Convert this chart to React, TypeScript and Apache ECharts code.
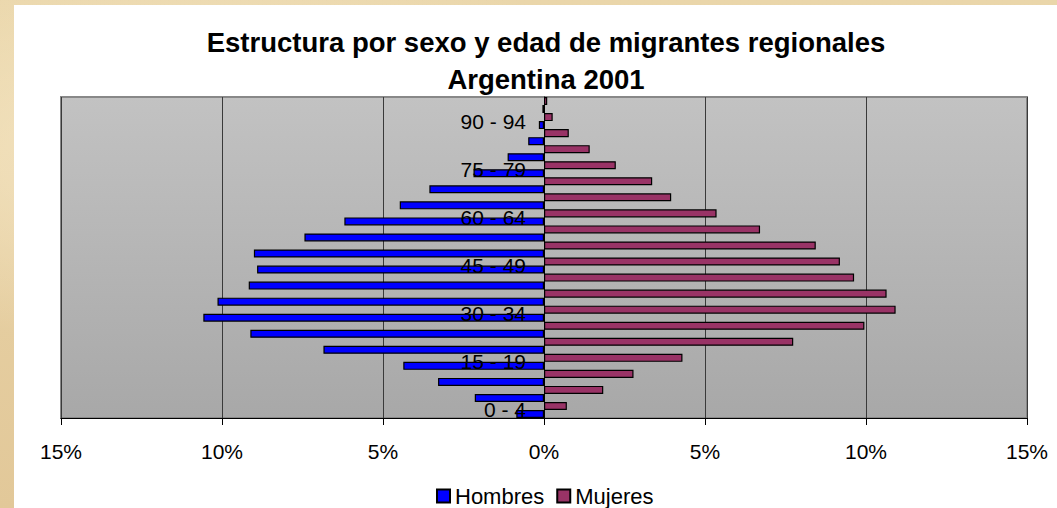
import React, { useEffect, useRef } from "react";
import * as echarts from "echarts";

const categories = [
  "0 - 4", "5 - 9", "10 - 14", "15 - 19", "20 - 24", "25 - 29", "30 - 34",
  "35 - 39", "40 - 44", "45 - 49", "50 - 54", "55 - 59", "60 - 64", "65 - 69",
  "70 - 74", "75 - 79", "80 - 84", "85 - 89", "90 - 94", "95 - 99",
];
const hombres = [
  0.86, 2.15, 3.29, 4.37, 6.85, 9.12, 10.58, 10.14, 9.17, 8.91,
  9.01, 7.44, 6.2, 4.48, 3.56, 2.19, 1.13, 0.49, 0.16, 0.05,
];
const mujeres = [
  0.71, 1.84, 2.78, 4.3, 7.74, 9.95, 10.92, 10.64, 9.63, 9.19,
  8.44, 6.71, 5.36, 3.95, 3.36, 2.23, 1.42, 0.77, 0.27, 0.1,
];
const seriesNames = ["Hombres", "Mujeres"];
const titleText = "Estructura por sexo y edad de migrantes regionales\nArgentina 2001";

const FONT = '"Liberation Sans", Arial, sans-serif';

export default function App() {
  const ref = useRef<HTMLDivElement>(null);
  useEffect(() => {
    if (!ref.current) return;
    const chart = echarts.init(ref.current, undefined, { renderer: "svg" });
    chart.setOption({
      animation: false,
      backgroundColor: "transparent",
      graphic: [
        {
          type: "rect",
          shape: { x: 14, y: 5, width: 1043, height: 503 },
          style: { fill: "#ffffff" },
          z: -10,
          silent: true,
        },
      ],
      title: {
        text: titleText,
        left: 541,
        top: 19,
        textAlign: "center",
        textStyle: {
          fontFamily: FONT,
          fontSize: 27.5,
          fontWeight: "bold",
          color: "#000",
          lineHeight: 37,
        },
      },
      legend: {
        data: seriesNames,
        left: 431,
        top: 480,
        itemWidth: 13,
        itemHeight: 13,
        itemGap: 12,
        icon: "rect",
        textStyle: { fontFamily: FONT, fontSize: 22, color: "#000" },
      },
      grid: {
        left: 61,
        right: 30,
        top: 97,
        bottom: 90,
        outerBoundsMode: "none",
        containLabel: false,
        show: true,
        backgroundColor: new echarts.graphic.LinearGradient(0, 0, 0, 1, [
          { offset: 0, color: "#c2c2c2" },
          { offset: 1, color: "#a8a8a8" },
        ]),
        borderColor: "#888888",
        borderWidth: 2,
      },
      xAxis: {
        type: "value",
        min: -15,
        max: 15,
        interval: 5,
        axisLine: { show: true, lineStyle: { color: "#000", width: 1 } },
        axisTick: { show: true, length: 7, lineStyle: { color: "#000" } },
        axisLabel: {
          fontFamily: FONT,
          fontSize: 21,
          color: "#000",
          margin: 23,
          formatter: (v: number) => Math.abs(v) + "%",
        },
        splitLine: { show: true, lineStyle: { color: "#3a3a3a", width: 1 } },
      },
      yAxis: {
        type: "category",
        data: categories,
        position: "left",
        offset: -483,
        z: 10,
        axisLine: { show: true, onZero: false, lineStyle: { color: "#000", width: 1 } },
        axisTick: { show: false },
        axisLabel: {
          interval: 2,
          fontFamily: FONT,
          fontSize: 21,
          color: "#000",
          margin: 18,
        },
        splitLine: { show: false },
      },
      series: [
        {
          name: "Mujeres",
          type: "bar",
          data: mujeres,
          barGap: "0%",
          barCategoryGap: "0%",
          itemStyle: { color: "#993366", borderColor: "#000", borderWidth: 1.2 },
        },
        {
          name: "Hombres",
          type: "bar",
          data: hombres.map((v) => -v),
          barGap: "0%",
          barCategoryGap: "0%",
          itemStyle: { color: "#0000ff", borderColor: "#000", borderWidth: 1.2 },
        },
      ],
    });
    return () => chart.dispose();
  }, []);

  return (
    <div
      style={{
        position: "fixed",
        left: 0,
        top: 0,
        width: 1057,
        height: 508,
        background:
          "radial-gradient(ellipse at 20% 30%, rgba(255,245,220,0.6), transparent 40%), radial-gradient(ellipse at 70% 80%, rgba(200,170,120,0.35), transparent 50%), linear-gradient(180deg, #ead6aa, #e2c899)",
      }}
    >
      <div ref={ref} style={{ width: 1057, height: 508 }} />
    </div>
  );
}
